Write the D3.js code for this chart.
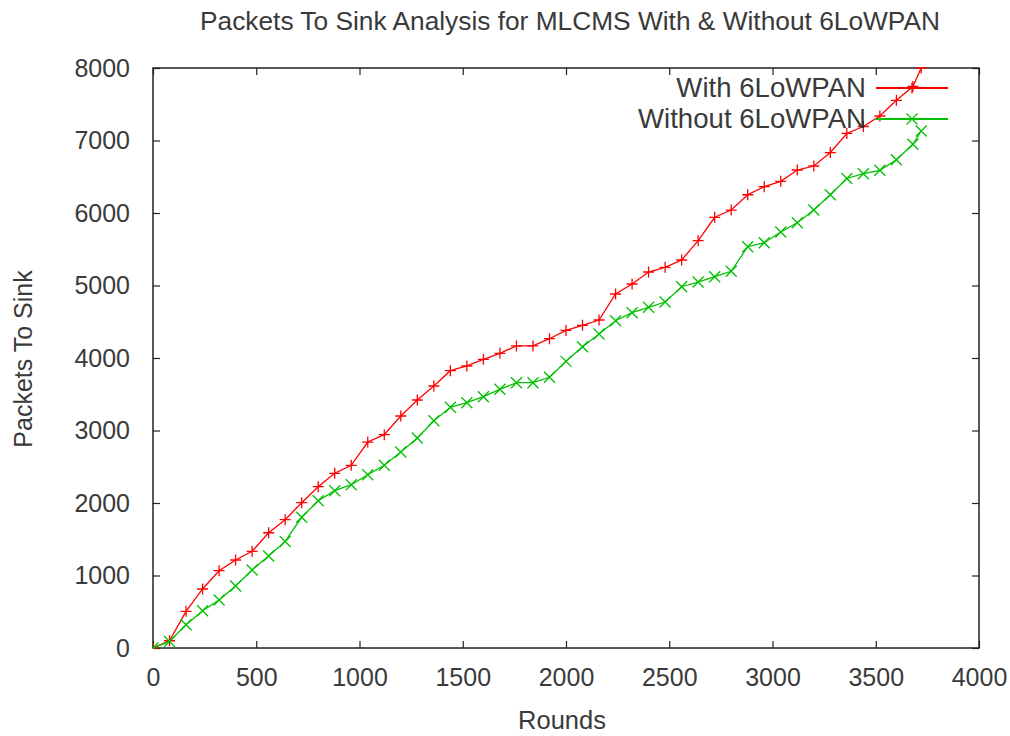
<!DOCTYPE html>
<html>
<head>
<meta charset="utf-8">
<script src="https://cdn.jsdelivr.net/npm/d3@7"></script>
<style>
  html, body { margin: 0; padding: 0; background: #fff; }
  svg { display: block; }
  text { font-family: "Liberation Sans", Arial, sans-serif; fill: #3a3a3a; }
</style>
</head>
<body>
<svg id="chart" width="1010" height="736"></svg>
<script>
// Rounds at which a sample was recorded (every 80 rounds, plus the last one)
const rounds = [0, 80, 160, 240, 320, 400, 480, 560, 640, 720, 800, 880, 960, 1040,
  1120, 1200, 1280, 1360, 1440, 1520, 1600, 1680, 1760, 1840, 1920, 2000, 2080,
  2160, 2240, 2320, 2400, 2480, 2560, 2640, 2720, 2800, 2880, 2960, 3040, 3120,
  3200, 3280, 3360, 3440, 3520, 3600, 3680, 3720];

// Packets delivered to the sink, MLCMS with 6LoWPAN
const withLowpan = [0, 100, 506, 814, 1066, 1214, 1334, 1590, 1770, 2004, 2225,
  2410, 2520, 2841, 2942, 3200, 3421, 3614, 3825, 3890, 3982, 4065, 4166, 4166,
  4266, 4380, 4451, 4524, 4883, 5021, 5186, 5251, 5352, 5618, 5941, 6041, 6252,
  6363, 6437, 6593, 6648, 6834, 7097, 7193, 7338, 7554, 7745, 8000];

// Packets delivered to the sink, MLCMS without 6LoWPAN
const withoutLowpan = [0, 90, 321, 514, 662, 855, 1076, 1269, 1470, 1803, 2032,
  2170, 2252, 2390, 2520, 2703, 2897, 3135, 3320, 3383, 3466, 3568, 3659, 3659,
  3734, 3954, 4156, 4331, 4514, 4625, 4699, 4772, 4983, 5048, 5121, 5196, 5535,
  5590, 5738, 5866, 6041, 6252, 6476, 6542, 6589, 6735, 6948, 7131];

const xTicks = [0, 500, 1000, 1500, 2000, 2500, 3000, 3500, 4000];
const yTicks = [0, 1000, 2000, 3000, 4000, 5000, 6000, 7000, 8000];

const seriesNames = ["With 6LoWPAN", "Without 6LoWPAN"];
const seriesColors = ["#ff0000", "#00c000"];
const seriesShapes = ["plus", "cross"];

const svg = d3.select("#chart");
const plotL = 153, plotR = 979, plotT = 68, plotB = 648;
const fontStack = '"Liberation Sans", Arial, sans-serif';
const textColor = "#3a3a3a";

const x = d3.scaleLinear().domain([0, 4000]).range([plotL, plotR]);
const y = d3.scaleLinear().domain([0, 8000]).range([plotB, plotT]);

svg.append("defs").append("clipPath").attr("id", "plotClip")
  .append("rect").attr("x", plotL).attr("y", plotT - 1)
  .attr("width", plotR - plotL).attr("height", plotB - plotT + 2);

// Title
svg.append("text")
  .attr("x", 570).attr("y", 30)
  .attr("text-anchor", "middle")
  .style("font-size", "26.3px")
  .text("Packets To Sink Analysis for MLCMS With & Without 6LoWPAN");

// Axis titles
svg.append("text")
  .attr("x", 562).attr("y", 729)
  .attr("text-anchor", "middle")
  .style("font-size", "25.5px")
  .text("Rounds");

svg.append("text")
  .attr("transform", "translate(32,359) rotate(-90)")
  .attr("text-anchor", "middle")
  .style("font-size", "25px")
  .text("Packets To Sink");

const tickLen = 7;
const axisColor = "#222";

// Bottom axis with ticks pointing inward, mirrored on top
const xAxis = d3.axisBottom(x).tickValues(xTicks).tickFormat(d3.format("d"))
  .tickSizeInner(-tickLen).tickSizeOuter(0).tickPadding(20);
const gx = svg.append("g").attr("transform", `translate(0,${plotB})`).call(xAxis);
gx.select(".domain").remove();
gx.selectAll(".tick line").attr("stroke", axisColor).attr("stroke-width", 1.2);
gx.selectAll(".tick text").attr("fill", textColor)
  .style("font-size", "25px").style("font-family", fontStack);

const xTop = d3.axisTop(x).tickValues(xTicks).tickFormat("")
  .tickSizeInner(-tickLen).tickSizeOuter(0);
const gxt = svg.append("g").attr("transform", `translate(0,${plotT})`).call(xTop);
gxt.select(".domain").remove();
gxt.selectAll(".tick line").attr("stroke", axisColor).attr("stroke-width", 1.2);

// Left axis with inward ticks, mirrored on the right
const yAxis = d3.axisLeft(y).tickValues(yTicks).tickFormat(d3.format("d"))
  .tickSizeInner(-tickLen).tickSizeOuter(0).tickPadding(23);
const gy = svg.append("g").attr("transform", `translate(${plotL},0)`).call(yAxis);
gy.select(".domain").remove();
gy.selectAll(".tick line").attr("stroke", axisColor).attr("stroke-width", 1.2);
gy.selectAll(".tick text").attr("fill", textColor)
  .style("font-size", "25px").style("font-family", fontStack);

const yRight = d3.axisRight(y).tickValues(yTicks).tickFormat("")
  .tickSizeInner(-tickLen).tickSizeOuter(0);
const gyr = svg.append("g").attr("transform", `translate(${plotR},0)`).call(yRight);
gyr.select(".domain").remove();
gyr.selectAll(".tick line").attr("stroke", axisColor).attr("stroke-width", 1.2);

// Plot border
svg.append("rect")
  .attr("x", plotL).attr("y", plotT)
  .attr("width", plotR - plotL).attr("height", plotB - plotT)
  .attr("fill", "none").attr("stroke", axisColor).attr("stroke-width", 1.5);

function markerPath(shape, cx, cy, r) {
  if (shape === "plus") {
    return `M${cx - r},${cy}H${cx + r}M${cx},${cy - r}V${cy + r}`;
  }
  return `M${cx - r},${cy - r}L${cx + r},${cy + r}M${cx - r},${cy + r}L${cx + r},${cy - r}`;
}

const series = [withLowpan, withoutLowpan];
const line = d3.line().x(d => x(d[0])).y(d => y(d[1]));
const plot = svg.append("g").attr("clip-path", "url(#plotClip)");

series.forEach((vals, i) => {
  const pts = rounds.map((r, k) => [r, vals[k]]);
  plot.append("path")
    .datum(pts)
    .attr("d", line)
    .attr("fill", "none")
    .attr("stroke", seriesColors[i])
    .attr("stroke-width", 1.3);
  plot.append("g").selectAll("path")
    .data(pts)
    .join("path")
    .attr("d", d => markerPath(seriesShapes[i], x(d[0]), y(d[1]), 5.5))
    .attr("fill", "none")
    .attr("stroke", seriesColors[i])
    .attr("stroke-width", 1.3);
});

// Legend in the upper-right corner
const legendRows = [88, 119];
seriesNames.forEach((name, i) => {
  const ly = legendRows[i];
  svg.append("text")
    .attr("x", 866).attr("y", ly + 8.5)
    .attr("text-anchor", "end")
    .style("font-size", "27.6px")
    .text(name);
  svg.append("line")
    .attr("x1", 876).attr("x2", 948)
    .attr("y1", ly).attr("y2", ly)
    .attr("stroke", seriesColors[i]).attr("stroke-width", 2);
  svg.append("path")
    .attr("d", markerPath(seriesShapes[i], 912, ly, 5.5))
    .attr("fill", "none")
    .attr("stroke", seriesColors[i])
    .attr("stroke-width", 1.3);
});
</script>
</body>
</html>
